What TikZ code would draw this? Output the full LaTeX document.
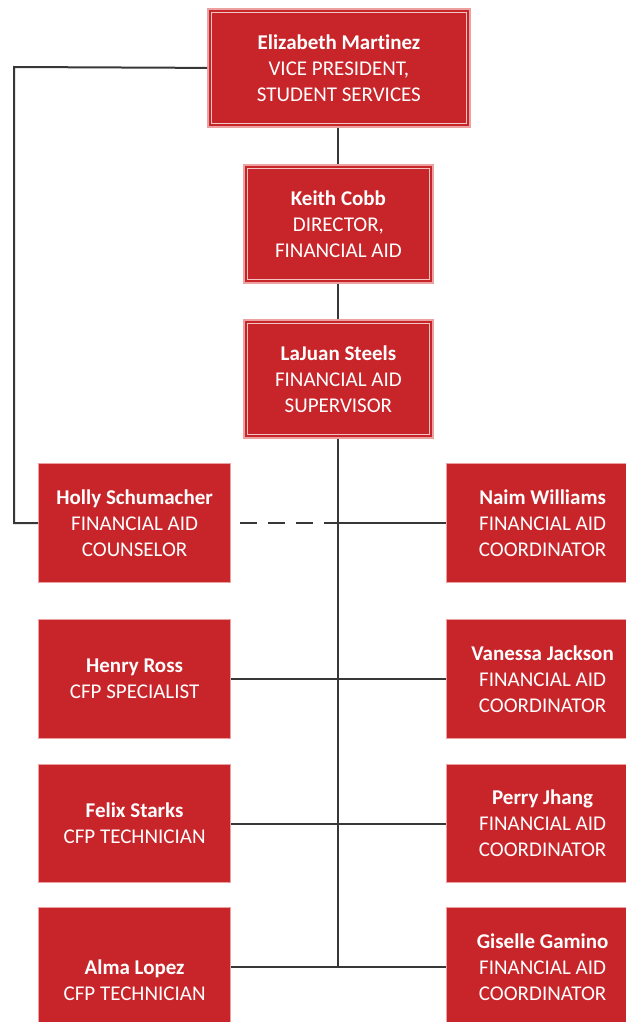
\documentclass[tikz,border=0pt]{standalone}
\usepackage{fontspec}
\setmainfont{Carlito}[Ligatures=NoCommon]
\usetikzlibrary{calc}
\definecolor{boxred}{RGB}{200,37,42}
\definecolor{boxpink}{RGB}{236,160,160}
\definecolor{innerpink}{RGB}{242,196,196}
\definecolor{lineg}{RGB}{55,55,55}
\tikzset{
  person/.style={fill=boxred, draw=boxpink, line width=1.2pt, text=white, align=center,
    inner sep=0pt, font=\fontsize{21}{26}\selectfont, anchor=north west},
  topbox/.style={person, line width=1.8pt},
  innerline/.style={draw=innerpink, line width=1pt},
  conn/.style={draw=lineg, line width=2pt},
  dashconn/.style={conn, dash pattern=on 17pt off 11pt, dash phase=-9pt}
}
\newcommand{\nm}[1]{\textbf{#1}}
\begin{document}
\begin{tikzpicture}[x=1pt,y=-1pt]
\useasboundingbox (0,0) rectangle (626,1022);
\clip (0,0) rectangle (626,1022);
% top boxes
\node[topbox, minimum width=262pt, minimum height=118pt] (vp) at (207,8)
  {\nm{Elizabeth Martinez}\\VICE PRESIDENT,\\STUDENT SERVICES};
\node[topbox, minimum width=189pt, minimum height=118pt] (dir) at (243,164)
  {\nm{Keith Cobb}\\DIRECTOR,\\FINANCIAL AID};
\node[topbox, minimum width=189pt, minimum height=118pt] (sup) at (243,319)
  {\nm{LaJuan Steels}\\FINANCIAL AID\\SUPERVISOR};
\foreach \n in {vp,dir,sup}{
  \draw[innerline] ($(\n.north west)+(4.5,4.5)$) rectangle ($(\n.south east)+(-4.5,-4.5)$);
}
% left column
\node[person, minimum width=192pt, minimum height=119pt] (holly) at (38,463)
  {\nm{Holly Schumacher}\\FINANCIAL AID\\COUNSELOR};
\node[person, minimum width=192pt, minimum height=119pt] (henry) at (38,619)
  {\nm{Henry Ross}\\CFP SPECIALIST};
\node[person, minimum width=192pt, minimum height=118pt] (felix) at (38,764)
  {\nm{Felix Starks}\\CFP TECHNICIAN};
\node[person, minimum width=192pt, minimum height=146pt] (alma) at (38,907)
  {\nm{Alma Lopez}\\CFP TECHNICIAN};
% right column
\node[person, minimum width=192pt, minimum height=119pt] (naim) at (446,463)
  {\nm{Naim Williams}\\FINANCIAL AID\\COORDINATOR};
\node[person, minimum width=192pt, minimum height=119pt] (vanessa) at (446,619)
  {\nm{Vanessa Jackson}\\FINANCIAL AID\\COORDINATOR};
\node[person, minimum width=192pt, minimum height=118pt] (perry) at (446,764)
  {\nm{Perry Jhang}\\FINANCIAL AID\\COORDINATOR};
\node[person, minimum width=192pt, minimum height=119pt] (giselle) at (446,907)
  {\nm{Giselle Gamino}\\FINANCIAL AID\\COORDINATOR};
% connectors
\coordinate (j1) at (holly.east -| sup.south);
\coordinate (j4) at (giselle.west -| sup.south);
\coordinate (lc) at (14,67);
\draw[conn] (vp.south -| sup.south) -- (dir.north -| sup.south);
\draw[conn] (dir.south -| sup.south) -- (sup.north);
\draw[conn] (sup.south) -- (j4);
\draw[conn] (vp.west) -- (lc) |- (holly.west);
\draw[dashconn] (holly.east) -- (j1);
\draw[conn] (j1) -- (naim.west);
\draw[conn] (henry.east) -- (vanessa.west);
\draw[conn] (felix.east) -- (perry.west);
\draw[conn] (j4 -| alma.east) -- (giselle.west);
\end{tikzpicture}
\end{document}
